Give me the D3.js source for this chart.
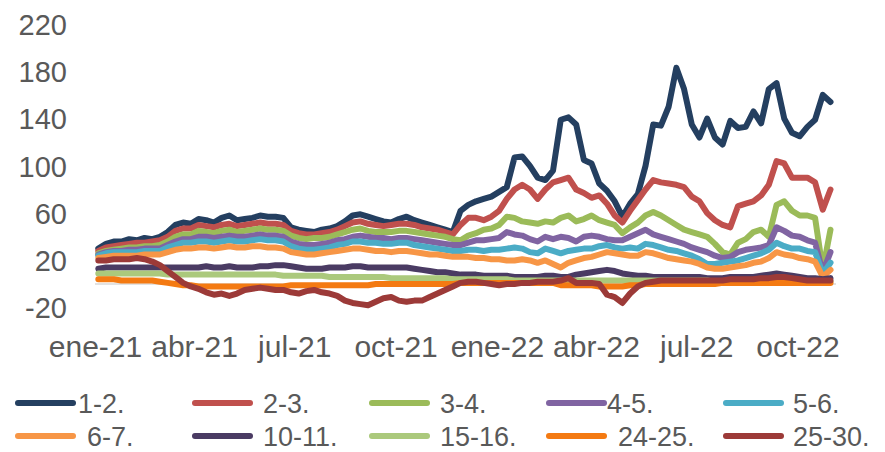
<!DOCTYPE html>
<html>
<head>
<meta charset="utf-8">
<script src="https://cdn.jsdelivr.net/npm/d3@7"></script>
<style>
  body { margin: 0; background: #fff; }
  svg text { font-family: "Liberation Sans", Arial, sans-serif; fill: #595959; }
</style>
</head>
<body>
<svg id="chart" width="885" height="452"></svg>
<script>
// weekly observations (Mondays), Jan 2021 -> Oct 2022
const startDate = new Date(2021, 0, 4);
const endDate = new Date(2022, 10, 1);
const dates = d3.timeMonday.range(startDate, endDate);

const seriesNames = ['1-2.', '2-3.', '3-4.', '4-5.', '5-6.', '6-7.', '10-11.', '15-16.', '24-25.', '25-30.'];
const seriesColors = ['#243F60', '#C0504D', '#9BBB59', '#8064A2', '#4BACC6', '#F79646', '#4A3B63', '#ABC97C', '#F47A12', '#9C3A38'];

const s1_2 = [30,34,36,36,38,37,39,38,40,44,50,52,51,55,54,52,56,58,54,55,56,58,57,57,56,48,46,45,44,46,47,49,53,58,59,57,55,53,52,55,57,54,52,50,48,46,44,62,67,70,72,74,78,82,107,108,100,90,88,96,139,141,135,105,102,85,79,70,57,68,76,100,135,134,150,183,165,135,124,140,124,118,138,132,133,146,136,165,170,140,128,125,133,139,160,154];
const s2_3 = [28,31,32,33,34,35,35,36,37,40,45,47,47,50,49,48,50,51,49,50,51,52,51,51,50,45,43,42,42,43,44,46,49,52,53,51,50,49,50,51,51,50,48,47,46,44,42,50,56,56,54,57,62,72,80,84,80,72,80,86,88,90,80,77,73,75,68,58,52,62,71,80,88,86,85,84,82,74,70,60,54,50,48,66,68,70,75,84,104,102,90,90,90,86,63,80];
const s3_4 = [26,28,29,30,31,31,32,32,33,36,40,42,42,45,44,43,45,46,44,45,46,47,46,46,45,41,39,38,39,39,40,42,44,46,47,45,44,44,44,45,45,44,43,42,41,40,38,37,41,43,46,47,50,57,56,53,52,51,53,52,56,58,53,55,58,54,52,50,43,48,52,58,61,58,54,50,46,44,42,40,34,27,25,35,38,44,46,40,67,70,62,58,58,56,12,46];
const s4_5 = [25,27,28,28,29,29,30,30,30,33,36,38,38,40,40,39,40,41,40,40,41,42,41,41,40,36,34,33,33,34,35,37,38,40,41,40,39,39,38,39,39,38,37,36,35,34,33,33,35,37,37,38,39,44,42,41,38,36,40,38,40,39,36,40,41,40,38,37,37,40,43,46,42,40,38,36,34,31,29,27,24,22,23,27,29,30,31,33,48,45,41,40,37,35,10,27];
const s5_6 = [24,26,27,27,27,27,28,28,28,31,33,35,35,36,36,35,36,37,36,36,37,38,37,37,36,32,30,29,29,30,31,33,34,36,36,35,35,34,34,35,35,33,32,31,30,29,28,28,29,29,28,29,29,30,31,30,27,26,30,28,26,28,29,30,30,32,33,31,30,31,30,34,33,31,29,28,26,24,21,17,17,18,19,20,22,24,26,29,35,32,30,30,28,27,9,18];
const s6_7 = [22,23,24,24,24,24,25,25,25,27,29,30,30,31,31,30,31,32,31,31,32,32,31,31,30,27,26,25,25,26,27,28,29,30,30,29,28,28,27,28,28,27,26,25,25,24,23,23,23,22,22,21,21,20,20,21,20,18,20,17,14,18,20,22,23,25,27,26,25,24,24,27,26,24,22,21,20,19,17,14,13,13,14,15,16,18,19,22,27,25,24,22,21,19,6,12];
const s10_11 = [13,14,14,14,14,14,14,14,14,14,14,14,14,14,15,14,14,15,14,14,14,15,15,16,16,15,14,13,13,13,14,14,14,15,15,14,14,14,14,14,14,13,12,11,10,10,9,8,8,8,7,7,7,7,6,6,6,6,7,7,6,6,8,9,10,11,12,11,9,8,7,7,6,6,6,6,6,6,6,5,5,5,6,6,6,6,7,8,9,8,7,6,5,5,4,5];
const s15_16 = [9,9,9,9,9,9,9,9,9,8,8,8,8,8,8,8,8,8,8,8,8,8,8,8,7,7,7,7,7,7,6,6,6,6,6,6,6,6,5,5,5,5,5,5,5,5,4,4,4,4,4,4,4,4,3,3,3,3,3,3,3,3,3,3,3,3,3,3,3,3,3,3,3,3,3,3,3,3,3,3,2,2,2,2,2,2,2,2,2,2,2,2,2,2,2,2];
const s24_25 = [4,4,4,3,3,3,3,3,2,1,0,-1,-1,-2,-2,-2,-2,-2,-2,-2,-2,-2,-2,-2,-2,-1,-1,-1,-1,-1,-1,-1,-1,-1,-1,-1,0,0,0,0,0,0,0,0,0,0,0,1,1,1,1,1,1,1,1,1,1,1,1,1,-1,-1,-1,-1,-1,-2,-2,-2,-2,-1,-1,0,0,0,0,0,0,0,0,0,0,1,1,1,1,1,1,1,1,1,1,1,1,1,1,1];
const s25_30 = [20,20,21,21,21,22,21,19,16,11,6,1,-2,-4,-7,-9,-8,-10,-8,-5,-4,-3,-4,-5,-5,-7,-8,-6,-5,-7,-8,-10,-14,-16,-17,-18,-15,-12,-11,-14,-15,-14,-14,-11,-8,-5,-2,1,2,2,1,0,-1,0,0,1,1,2,2,2,3,5,1,1,1,0,-9,-11,-16,-8,-2,1,2,3,3,3,3,3,3,3,3,3,4,4,4,4,5,5,6,6,5,4,3,3,3,3];

const seriesValues = [s1_2, s2_3, s3_4, s4_5, s5_6, s6_7, s10_11, s15_16, s24_25, s25_30];

const yTicks = [220, 180, 140, 100, 60, 20, -20];
const xTickDates = [new Date(2021,0,1), new Date(2021,3,1), new Date(2021,6,1), new Date(2021,9,1),
                    new Date(2022,0,1), new Date(2022,3,1), new Date(2022,6,1), new Date(2022,9,1)];
const xTickLabels = ['ene-21','abr-21','jul-21','oct-21','ene-22','abr-22','jul-22','oct-22'];

const svg = d3.select('#chart');

const x = d3.scaleTime()
    .domain([new Date(2021,0,1), new Date(2022,10,5)])
    .range([95, 836]);
const y = d3.scaleLinear()
    .domain([-20, 220])
    .range([307.7, 24]);

// y axis (labels only)
const yAxis = d3.axisLeft(y).tickValues(yTicks).tickSize(0).tickPadding(0).tickFormat(d => String(d));
svg.append('g')
    .attr('transform', 'translate(67,0)')
    .call(yAxis)
    .call(g => g.select('.domain').remove())
    .selectAll('text')
    .attr('font-size', 29)
    .attr('dy', '0.35em')
    .style('font-family', '"Liberation Sans", Arial, sans-serif')
    .attr('fill', '#595959');

// x axis (labels only)
const xAxis = d3.axisBottom(x).tickValues(xTickDates).tickSize(0).tickPadding(0)
    .tickFormat((d, i) => xTickLabels[i]);
svg.append('g')
    .attr('transform', 'translate(0,336)')
    .call(xAxis)
    .call(g => g.select('.domain').remove())
    .selectAll('text')
    .attr('font-size', 30)
    .attr('dy', '0.71em')
    .style('font-family', '"Liberation Sans", Arial, sans-serif')
    .attr('fill', '#595959');

// zero line
svg.append('line')
    .attr('x1', 95).attr('x2', 836)
    .attr('y1', y(0)).attr('y2', y(0))
    .attr('stroke', '#D9D9D9')
    .attr('stroke-width', 1.5);

const line = d3.line()
    .x((d, i) => x(dates[i]))
    .y(d => y(d));

svg.selectAll('path.series')
    .data(seriesValues)
    .enter()
    .append('path')
    .attr('class', 'series')
    .attr('fill', 'none')
    .attr('stroke', (d, i) => seriesColors[i])
    .attr('stroke-width', 6)
    .attr('stroke-linejoin', 'round')
    .attr('stroke-linecap', 'round')
    .attr('d', line);

// legend
const legendLineX = [18, 195, 372, 549, 726];
const legendTextX = [[78, 263, 440, 607, 793], [87, 263, 440, 618, 793]];
const legendRowY = [403, 436];

const legend = svg.selectAll('g.legend')
    .data(seriesNames)
    .enter()
    .append('g')
    .attr('class', 'legend');

legend.append('line')
    .attr('x1', (d, i) => legendLineX[i % 5])
    .attr('x2', (d, i) => legendLineX[i % 5] + 55)
    .attr('y1', (d, i) => legendRowY[Math.floor(i / 5)])
    .attr('y2', (d, i) => legendRowY[Math.floor(i / 5)])
    .attr('stroke', (d, i) => seriesColors[i])
    .attr('stroke-width', 6)
    .attr('stroke-linecap', 'round');

legend.append('text')
    .attr('x', (d, i) => legendTextX[Math.floor(i / 5)][i % 5])
    .attr('y', (d, i) => legendRowY[Math.floor(i / 5)])
    .attr('dy', '0.36em')
    .attr('font-size', 27)
    .text(d => d);
</script>
</body>
</html>
